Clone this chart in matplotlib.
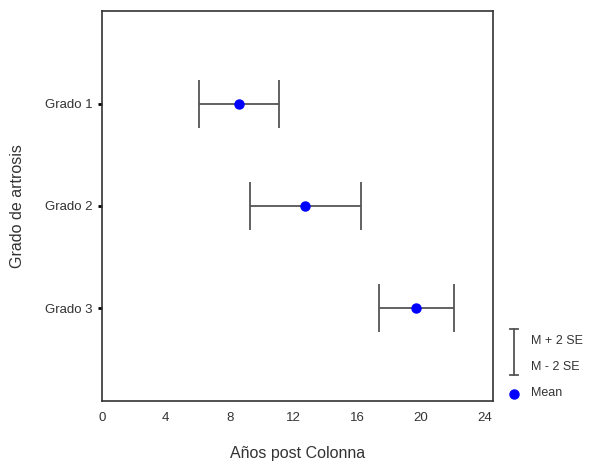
import matplotlib
matplotlib.use("Agg")
import matplotlib.pyplot as plt
from matplotlib.lines import Line2D

plt.rcParams['font.family'] = ['Liberation Sans', 'DejaVu Sans']

# Data
grades = ['Grado 1', 'Grado 2', 'Grado 3']
means = [8.56, 12.69, 19.69]
lower = [6.06, 9.25, 17.38]   # M - 2 SE
upper = [11.06, 16.25, 22.06]  # M + 2 SE
x_ticks = [0, 4, 8, 12, 16, 20, 24]

W, H = 589, 461
fig = plt.figure(figsize=(W / 100, H / 100), dpi=100)
ax = fig.add_axes([102 / W, (H - 401) / H, (493 - 102) / W, (401 - 11) / H])

ypos = list(range(1, len(grades) + 1))
err_lo = [m - l for m, l in zip(means, lower)]
err_hi = [u - m for m, u in zip(means, upper)]

ax.errorbar(means, ypos, xerr=[err_lo, err_hi], fmt='none',
            ecolor='#555555', elinewidth=1.3, capsize=17, capthick=1.3)
ax.plot(means, ypos, 'o', color='#0000ff', markersize=6.5, zorder=3)

ax.set_xlim(0, 24.5)
ax.set_ylim(3.91, 0.09)
ax.set_xticks(x_ticks)
ax.set_yticks(ypos)
ax.set_yticklabels(grades)
ax.tick_params(axis='x', length=0, pad=8, labelsize=9.5, colors='#333333')
ax.tick_params(axis='y', length=3, width=2, pad=4, labelsize=9.5, color='black',
               labelcolor='#333333')
for s in ax.spines.values():
    s.set_color('#333333')
    s.set_linewidth(1.2)

ax.set_xlabel('Años post Colonna', fontsize=11.5, color='#333333', labelpad=16)
ax.set_ylabel('Grado de artrosis', fontsize=11.5, color='#333333', labelpad=14)

# Legend drawn by hand in pixel positions to the right of the axes
def px(x, y):
    return x / W, (H - y) / H

lc = '#555555'
x0, y0 = px(514, 329)
x1, y1 = px(514, 375)
fig.add_artist(Line2D([x0, x1], [y0, y1], color=lc, lw=1.3))
for yy in (329, 375):
    a, b = px(510, yy)
    c, d = px(518, yy)
    fig.add_artist(Line2D([a, c], [b, d], color=lc, lw=1.3))
mx, my = px(514, 394)
fig.add_artist(Line2D([mx], [my], marker='o', color='#0000ff', markersize=6.5, lw=0))
for txt, yy in (('M + 2 SE', 341), ('M - 2 SE', 367), ('Mean', 393)):
    tx, ty = px(531, yy)
    fig.text(tx, ty, txt, fontsize=9, color='#333333', va='center', ha='left')

fig.savefig('out.png', dpi=100)
